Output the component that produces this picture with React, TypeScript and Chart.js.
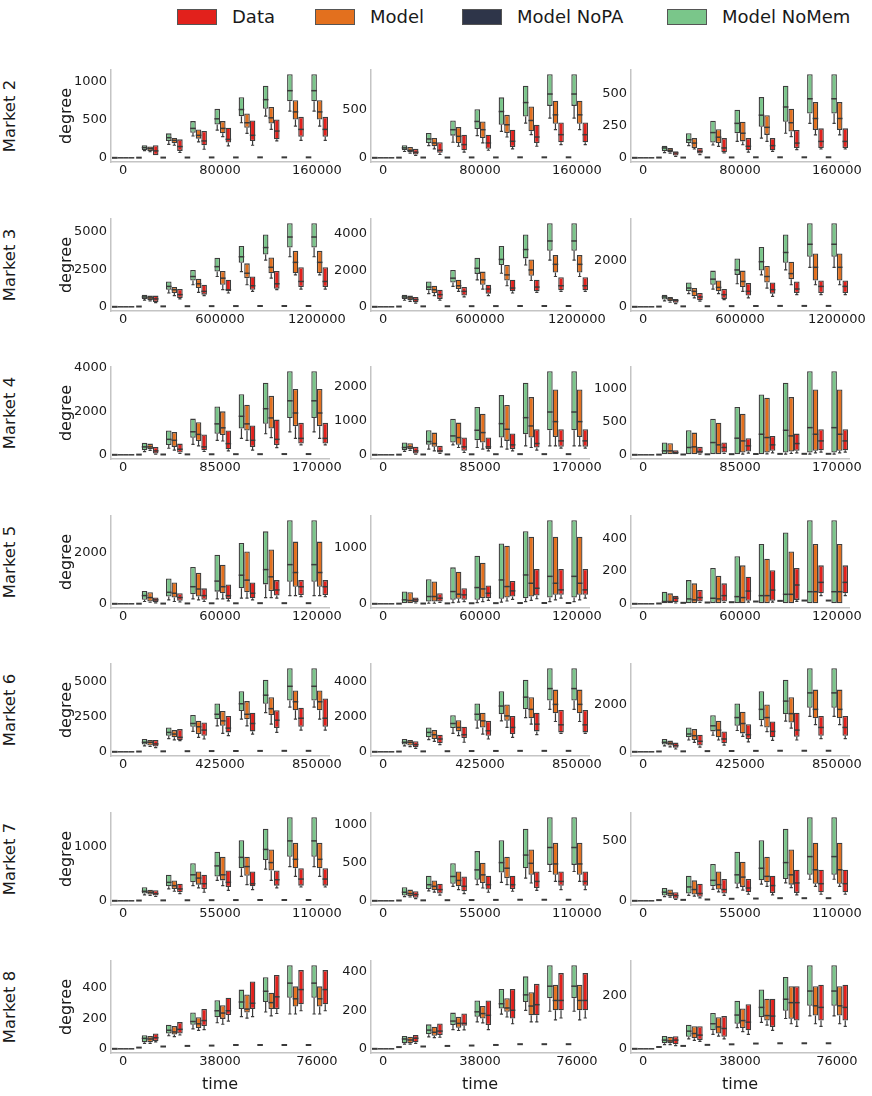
import React, { useEffect, useRef } from 'react';
import { Chart, registerables } from 'chart.js';

Chart.register(...registerables);

// box stats per group: [lowerWhisker, q1, median, q3]
// each market: one list per column (3 columns), 9 time groups each

const seriesNames = ['Data', 'Model', 'Model NoPA', 'Model NoMem'];
const seriesColors = ['#e2211c', '#e3701e', '#2e3549', '#7ac68a'];

const m2Times = [0, 20000, 40000, 60000, 80000, 100000, 120000, 140000, 160000];
const m2Ticks = [0, 80000, 160000];
const m2YTicks = [[0, 500, 1000], [0, 500], [0, 250, 500]];
const m2NoPA = [[0, 2, 3, 4, 5, 5, 6, 6, 6], [0, 2, 3, 3, 4, 4, 5, 5, 5], [0, 2, 2, 3, 3, 4, 4, 4, 4]];
const m2NoMem = [
  [[0, 0, 0, 0], [95, 104, 135, 165], [178, 222, 265, 322], [287, 330, 387, 483], [365, 439, 513, 644], [461, 548, 635, 796], [548, 644, 765, 948], [613, 744, 883, 1100], [613, 744, 883, 1100]],
  [[0, 0, 0, 0], [65, 78, 102, 129], [126, 153, 194, 255], [160, 228, 289, 384], [228, 296, 374, 500], [272, 340, 476, 622], [357, 425, 568, 741], [408, 534, 656, 860], [408, 534, 656, 860]],
  [[0, 0, 0, 0], [40, 51, 77, 95], [95, 115, 141, 192], [100, 120, 197, 289], [128, 192, 269, 376], [154, 243, 333, 474], [192, 282, 397, 563], [269, 346, 461, 653], [269, 346, 461, 653]],
];
const m2Model = [
  [[0, 0, 0, 0], [80, 91, 122, 148], [165, 191, 230, 261], [209, 252, 296, 374], [278, 322, 387, 483], [322, 396, 461, 583], [374, 452, 526, 670], [417, 504, 604, 757], [417, 504, 604, 757]],
  [[0, 0, 0, 0], [48, 58, 78, 112], [92, 119, 153, 204], [119, 153, 221, 316], [153, 204, 289, 374], [214, 255, 340, 442], [238, 272, 384, 527], [289, 350, 442, 588], [289, 350, 442, 588]],
  [[0, 0, 0, 0], [36, 44, 59, 77], [69, 77, 115, 154], [90, 115, 161, 223], [102, 128, 192, 282], [128, 179, 238, 333], [166, 205, 274, 384], [179, 218, 307, 435], [179, 218, 307, 435]],
];
const m2Data = [
  [[0, 0, 0, 0], [30, 35, 91, 165], [70, 91, 148, 243], [113, 165, 222, 352], [156, 200, 243, 396], [165, 222, 296, 491], [222, 243, 352, 504], [230, 278, 374, 539], [230, 278, 374, 539]],
  [[0, 0, 0, 0], [25, 34, 58, 92], [34, 51, 78, 160], [58, 78, 136, 238], [78, 92, 153, 238], [92, 112, 170, 289], [119, 153, 214, 340], [136, 160, 238, 364], [136, 160, 238, 364]],
  [[0, 0, 0, 0], [12, 18, 38, 51], [25, 33, 51, 77], [38, 44, 77, 154], [44, 59, 90, 154], [51, 59, 95, 154], [64, 77, 115, 218], [69, 77, 128, 230], [69, 77, 128, 230]],
];

const m3Times = [0, 150000, 300000, 450000, 600000, 750000, 900000, 1050000, 1200000];
const m3Ticks = [0, 600000, 1200000];
const m3YTicks = [[0, 2500, 5000], [0, 2000, 4000], [0, 2000]];
const m3NoPA = [[0, 20, 30, 40, 45, 50, 55, 55, 55], [0, 15, 25, 30, 35, 40, 45, 45, 45], [0, 10, 20, 25, 30, 35, 40, 40, 40]];
const m3NoMem = [
  [[0, 0, 0, 0], [450, 528, 660, 814], [924, 1144, 1364, 1694], [1474, 1760, 2024, 2464], [2024, 2354, 2684, 3278], [2354, 2948, 3344, 4070], [3124, 3498, 3960, 4840], [3344, 3960, 4664, 5588], [3344, 3960, 4664, 5588]],
  [[0, 0, 0, 0], [360, 432, 540, 666], [720, 900, 1080, 1386], [1116, 1332, 1566, 2016], [1476, 1800, 2106, 2682], [1836, 2286, 2592, 3330], [2286, 2646, 3132, 3960], [2556, 3060, 3600, 4572], [2556, 3060, 3600, 4572]],
  [[0, 0, 0, 0], [260, 317, 432, 533], [576, 677, 821, 1066], [778, 965, 1210, 1584], [1008, 1397, 1613, 2117], [1397, 1584, 1973, 2621], [1613, 1930, 2376, 3168], [1728, 2189, 2736, 3658], [1728, 2189, 2736, 3658]],
];
const m3Model = [
  [[0, 0, 0, 0], [400, 440, 594, 748], [748, 924, 1144, 1320], [968, 1254, 1540, 1870], [1144, 1474, 1914, 2398], [1474, 1914, 2244, 2904], [1914, 2244, 2640, 3300], [2134, 2244, 2970, 3740], [2134, 2244, 2970, 3740]],
  [[0, 0, 0, 0], [300, 360, 486, 612], [612, 756, 936, 1152], [846, 972, 1152, 1476], [972, 1206, 1476, 1926], [1152, 1440, 1746, 2286], [1440, 1692, 2016, 2592], [1656, 1872, 2322, 2826], [1656, 1872, 2322, 2826]],
  [[0, 0, 0, 0], [200, 245, 346, 432], [389, 461, 677, 821], [576, 677, 850, 1152], [677, 864, 1109, 1584], [821, 1066, 1325, 1786], [965, 1210, 1454, 1973], [965, 1152, 1728, 2333], [965, 1152, 1728, 2333]],
];
const m3Data = [
  [[0, 0, 0, 0], [280, 330, 528, 748], [528, 594, 814, 1188], [748, 814, 1034, 1474], [924, 1034, 1144, 1804], [1034, 1144, 1408, 2024], [1144, 1210, 1540, 2398], [1188, 1320, 1694, 2640], [1188, 1320, 1694, 2640]],
  [[0, 0, 0, 0], [200, 252, 396, 540], [360, 432, 666, 936], [540, 612, 846, 1080], [612, 720, 972, 1206], [756, 846, 1026, 1476], [792, 846, 1080, 1476], [846, 900, 1152, 1620], [846, 900, 1152, 1620]],
  [[0, 0, 0, 0], [140, 173, 274, 346], [245, 288, 432, 605], [317, 346, 533, 778], [389, 490, 677, 1037], [461, 576, 749, 1066], [533, 605, 778, 1109], [533, 605, 893, 1152], [533, 605, 893, 1152]],
];

const m4Times = [0, 21250, 42500, 63750, 85000, 106250, 127500, 148750, 170000];
const m4Ticks = [0, 85000, 170000];
const m4YTicks = [[0, 2000, 4000], [0, 1000, 2000], [0, 500, 1000]];
const m4NoPA = [[0, 10, 15, 20, 25, 30, 30, 35, 35], [0, 5, 10, 12, 15, 18, 20, 20, 20], [0, 3, 5, 8, 10, 12, 14, 15, 15]];
const m4NoMem = [
  [[0, 0, 0, 0], [150, 212, 364, 560], [303, 455, 712, 1121], [485, 788, 1060, 1667], [667, 970, 1424, 2227], [757, 1212, 1773, 2788], [970, 1424, 2121, 3318], [1060, 1697, 2485, 3848], [1060, 1697, 2485, 3848]],
  [[0, 0, 0, 0], [100, 137, 215, 361], [166, 293, 390, 722], [293, 361, 556, 1064], [215, 429, 722, 1405], [234, 508, 917, 1757], [264, 605, 1093, 2118], [264, 722, 1259, 2460], [264, 722, 1259, 2460]],
  [[0, 0, 0, 0], [5, 10, 60, 186], [5, 10, 111, 372], [5, 10, 186, 548], [5, 10, 252, 724], [5, 10, 312, 915], [10, 35, 372, 1092], [10, 35, 412, 1268], [10, 35, 412, 1268]],
];
const m4Model = [
  [[0, 0, 0, 0], [200, 258, 364, 515], [212, 364, 667, 1045], [409, 636, 939, 1500], [636, 909, 1242, 2000], [667, 1121, 1424, 2303], [788, 1212, 1697, 2712], [757, 1318, 1924, 3030], [757, 1318, 1924, 3030]],
  [[0, 0, 0, 0], [130, 166, 234, 342], [117, 234, 332, 654], [215, 293, 508, 947], [166, 361, 654, 1210], [166, 410, 752, 1464], [215, 508, 849, 1698], [264, 527, 976, 1923], [264, 527, 976, 1923]],
  [[0, 0, 0, 0], [5, 10, 60, 176], [5, 10, 121, 337], [5, 10, 151, 488], [10, 35, 211, 624], [15, 35, 262, 865], [20, 50, 287, 875], [30, 60, 312, 991], [30, 60, 312, 991]],
];
const m4Data = [
  [[0, 0, 0, 0], [30, 60, 182, 364], [60, 106, 258, 515], [152, 212, 364, 939], [182, 258, 515, 1121], [212, 364, 667, 1348], [333, 455, 712, 1621], [455, 515, 757, 1470], [455, 515, 757, 1470]],
  [[0, 0, 0, 0], [20, 39, 117, 234], [40, 68, 117, 264], [68, 117, 234, 508], [117, 166, 234, 508], [117, 166, 293, 625], [137, 215, 332, 752], [195, 234, 410, 752], [195, 234, 410, 752]],
  [[0, 0, 0, 0], [5, 10, 35, 70], [10, 20, 50, 121], [20, 35, 111, 186], [25, 50, 136, 252], [30, 60, 151, 287], [30, 60, 171, 322], [40, 70, 211, 387], [40, 70, 211, 387]],
];

const m5Times = [0, 15000, 30000, 45000, 60000, 75000, 90000, 105000, 120000];
const m5Ticks = [0, 60000, 120000];
const m5YTicks = [[0, 2000], [0, 1000], [0, 200, 400]];
const m5NoPA = [[0, 5, 10, 15, 20, 20, 25, 25, 25], [0, 3, 5, 8, 10, 12, 14, 15, 15], [0, 2, 6, 8, 10, 14, 18, 20, 20]];
const m5NoMem = [
  [[0, 0, 0, 0], [89, 153, 318, 497], [153, 280, 446, 981], [191, 369, 662, 1427], [191, 471, 879, 1898], [217, 599, 1108, 2357], [242, 752, 1325, 2803], [318, 854, 1516, 3236], [318, 854, 1516, 3236]],
  [[0, 0, 0, 0], [5, 12, 71, 219], [10, 41, 130, 438], [20, 71, 219, 651], [20, 71, 290, 858], [30, 89, 426, 1077], [40, 101, 515, 1296], [40, 112, 490, 1492], [40, 112, 490, 1492]],
  [[0, 0, 0, 0], [1, 4, 14, 74], [1, 4, 30, 145], [1, 4, 34, 219], [1, 4, 44, 291], [1, 4, 50, 366], [1, 4, 58, 436], [1, 4, 74, 511], [1, 4, 74, 511]],
];
const m5Model = [
  [[0, 0, 0, 0], [60, 89, 242, 446], [89, 242, 408, 828], [153, 280, 573, 1198], [191, 408, 662, 1516], [217, 446, 917, 2026], [242, 497, 1045, 2102], [318, 662, 1210, 2408], [318, 662, 1210, 2408]],
  [[0, 0, 0, 0], [5, 12, 59, 207], [10, 41, 130, 397], [30, 89, 172, 574], [40, 101, 266, 734], [50, 112, 308, 1036], [60, 130, 367, 1196], [70, 160, 367, 1196], [70, 160, 367, 1196]],
  [[0, 0, 0, 0], [1, 4, 14, 64], [1, 4, 24, 125], [1, 4, 30, 171], [1, 4, 38, 235], [1, 4, 50, 275], [1, 4, 58, 320], [1, 4, 74, 366], [1, 4, 74, 366]],
];
const m5Data = [
  [[0, 0, 0, 0], [40, 64, 153, 242], [70, 115, 242, 408], [89, 153, 318, 599], [115, 191, 318, 752], [153, 217, 408, 828], [217, 318, 535, 917], [280, 344, 662, 917], [280, 344, 662, 917]],
  [[0, 0, 0, 0], [15, 30, 71, 112], [25, 41, 101, 189], [40, 71, 160, 278], [60, 101, 189, 326], [80, 130, 231, 408], [90, 148, 278, 622], [100, 160, 249, 622], [100, 160, 249, 622]],
  [[0, 0, 0, 0], [5, 10, 34, 50], [8, 14, 38, 84], [8, 14, 50, 125], [10, 18, 78, 165], [10, 18, 84, 205], [15, 24, 115, 219], [50, 64, 131, 235], [50, 64, 131, 235]],
];

const m6Times = [0, 106250, 212500, 318750, 425000, 531250, 637500, 743750, 850000];
const m6Ticks = [0, 425000, 850000];
const m6YTicks = [[0, 2500, 5000], [0, 2000, 4000], [0, 2000]];
const m6NoPA = [[0, 20, 35, 45, 55, 60, 65, 70, 70], [0, 15, 25, 35, 45, 50, 55, 55, 55], [0, 15, 20, 30, 35, 40, 45, 45, 45]];
const m6NoMem = [
  [[0, 0, 0, 0], [420, 519, 684, 920], [950, 1156, 1392, 1746], [1463, 1794, 2030, 2643], [1864, 2336, 2690, 3469], [2336, 2926, 3446, 4342], [2808, 3446, 4059, 5168], [3210, 3682, 4696, 5994], [3210, 3682, 4696, 5994]],
  [[0, 0, 0, 0], [340, 416, 548, 737], [700, 832, 1115, 1399], [1058, 1361, 1625, 2098], [1361, 1777, 2155, 2778], [1777, 2155, 2627, 3478], [1966, 2438, 3137, 4139], [2438, 2948, 3629, 4800], [2438, 2948, 3629, 4800]],
  [[0, 0, 0, 0], [250, 306, 403, 542], [500, 612, 751, 1029], [700, 862, 1098, 1543], [900, 1098, 1446, 2043], [1100, 1334, 1793, 2558], [1300, 1585, 2141, 3044], [1500, 1863, 2488, 3531], [1500, 1863, 2488, 3531]],
];
const m6Model = [
  [[0, 0, 0, 0], [380, 448, 684, 850], [850, 1038, 1274, 1558], [1038, 1274, 1794, 2218], [1322, 1864, 2218, 2926], [1864, 2336, 2690, 3634], [1982, 2643, 3092, 3918], [2336, 2974, 3587, 4390], [2336, 2974, 3587, 4390]],
  [[0, 0, 0, 0], [300, 359, 548, 680], [600, 737, 983, 1247], [926, 1172, 1399, 1814], [1021, 1399, 1777, 2249], [1399, 1777, 2060, 2722], [1588, 1928, 2438, 3137], [1739, 2211, 2722, 3572], [1739, 2211, 2722, 3572]],
  [[0, 0, 0, 0], [210, 264, 361, 473], [400, 500, 681, 959], [500, 612, 917, 1307], [650, 778, 1195, 1696], [850, 1029, 1446, 2002], [1000, 1237, 1612, 2307], [1150, 1418, 1793, 2627], [1150, 1418, 1793, 2627]],
];
const m6Data = [
  [[0, 0, 0, 0], [300, 378, 566, 850], [802, 850, 1038, 1628], [920, 1156, 1558, 2100], [1156, 1392, 1699, 2572], [1274, 1463, 2030, 2808], [1392, 1699, 2266, 2974], [1558, 1794, 2407, 3162], [1558, 1794, 2407, 3823]],
  [[0, 0, 0, 0], [200, 265, 416, 605], [416, 491, 737, 983], [548, 794, 983, 1436], [737, 926, 1210, 1777], [832, 1021, 1399, 2060], [983, 1172, 1588, 2249], [1058, 1115, 1550, 2400], [1058, 1115, 1550, 2400]],
  [[0, 0, 0, 0], [120, 167, 264, 389], [200, 264, 445, 723], [280, 361, 542, 862], [420, 542, 723, 1168], [480, 612, 862, 1279], [500, 639, 917, 1654], [560, 681, 1029, 1515], [560, 681, 1029, 1515]],
];

const m7Times = [0, 13750, 27500, 41250, 55000, 68750, 82500, 96250, 110000];
const m7Ticks = [0, 55000, 110000];
const m7YTicks = [[0, 1000], [0, 500, 1000], [0, 500]];
const m7NoPA = [[0, 5, 8, 10, 12, 14, 15, 15, 15], [0, 4, 6, 8, 10, 12, 14, 14, 14], [0, 6, 8, 11, 17, 19, 22, 22, 22]];
const m7NoMem = [
  [[0, 0, 0, 0], [110, 134, 177, 250], [220, 268, 342, 482], [281, 342, 482, 695], [378, 451, 647, 909], [451, 604, 805, 1122], [586, 756, 952, 1336], [634, 817, 1110, 1549], [634, 817, 1110, 1549]],
  [[0, 0, 0, 0], [55, 69, 112, 177], [130, 155, 211, 328], [190, 224, 319, 491], [211, 276, 405, 651], [241, 371, 500, 793], [297, 427, 599, 944], [384, 470, 698, 1095], [384, 470, 698, 1095]],
  [[0, 0, 0, 0], [35, 44, 72, 107], [45, 61, 116, 209], [95, 121, 171, 308], [110, 143, 217, 410], [140, 171, 272, 506], [150, 182, 319, 602], [180, 217, 369, 698], [180, 217, 369, 698]],
];
const m7Model = [
  [[0, 0, 0, 0], [100, 116, 159, 207], [177, 220, 281, 378], [238, 299, 421, 543], [281, 378, 482, 817], [299, 464, 634, 817], [378, 561, 708, 952], [451, 604, 769, 1074], [451, 604, 769, 1074]],
  [[0, 0, 0, 0], [50, 60, 95, 147], [115, 138, 190, 267], [147, 190, 267, 384], [168, 233, 340, 500], [211, 297, 427, 578], [233, 340, 491, 672], [254, 340, 483, 759], [254, 340, 483, 759]],
  [[0, 0, 0, 0], [30, 39, 61, 94], [40, 52, 94, 171], [75, 94, 135, 245], [90, 116, 198, 327], [120, 154, 204, 368], [110, 135, 217, 429], [120, 143, 259, 484], [120, 143, 259, 484]],
];
const m7Data = [
  [[0, 0, 0, 0], [80, 98, 134, 195], [134, 159, 220, 317], [159, 220, 317, 482], [195, 256, 342, 561], [207, 268, 317, 543], [238, 281, 390, 561], [256, 281, 403, 604], [256, 281, 403, 604]],
  [[0, 0, 0, 0], [30, 39, 82, 125], [75, 95, 147, 224], [95, 125, 190, 319], [112, 147, 211, 328], [125, 155, 211, 328], [138, 168, 254, 384], [147, 198, 254, 384], [147, 198, 254, 384]],
  [[0, 0, 0, 0], [12, 17, 44, 72], [25, 33, 61, 143], [45, 61, 94, 182], [55, 72, 107, 182], [50, 66, 127, 209], [50, 66, 149, 259], [55, 72, 143, 259], [55, 72, 143, 259]],
];

const m8Times = [0, 9500, 19000, 28500, 38000, 47500, 57000, 66500, 76000];
const m8Ticks = [0, 38000, 76000];
const m8YTicks = [[0, 200, 400], [0, 200, 400], [0, 200]];
const m8NoPA = [[0, 8, 15, 19, 21, 25, 25, 25, 25], [0, 9, 12, 15, 17, 20, 24, 24, 24], [0, 7, 11, 15, 17, 20, 21, 21, 21]];
const m8NoMem = [
  [[0, 0, 0, 0], [35, 42, 68, 89], [85, 100, 121, 157], [130, 157, 178, 237], [170, 206, 248, 316], [210, 259, 305, 386], [240, 305, 375, 466], [227, 333, 428, 545], [227, 333, 428, 545]],
  [[0, 0, 0, 0], [24, 29, 51, 67], [62, 75, 97, 127], [100, 123, 144, 188], [140, 166, 192, 251], [180, 209, 234, 311], [200, 243, 280, 376], [195, 263, 325, 434], [195, 263, 325, 434]],
  [[0, 0, 0, 0], [16, 21, 33, 49], [38, 46, 67, 91], [55, 70, 95, 136], [80, 95, 128, 182], [100, 120, 157, 225], [115, 144, 188, 272], [125, 163, 219, 317], [125, 163, 219, 317]],
];
const m8Model = [
  [[0, 0, 0, 0], [35, 42, 64, 83], [80, 93, 110, 148], [120, 136, 163, 206], [160, 195, 233, 284], [200, 237, 259, 354], [215, 259, 301, 365], [227, 276, 326, 407], [227, 276, 326, 407]],
  [[0, 0, 0, 0], [24, 29, 46, 63], [58, 68, 86, 115], [95, 109, 132, 166], [135, 157, 183, 222], [165, 192, 212, 263], [140, 174, 222, 294], [150, 200, 251, 332], [150, 200, 251, 332]],
  [[0, 0, 0, 0], [16, 21, 30, 46], [32, 40, 58, 86], [48, 58, 83, 120], [65, 79, 107, 153], [90, 107, 126, 190], [95, 114, 175, 237], [95, 126, 163, 237], [95, 126, 163, 237]],
];
const m8Data = [
  [[0, 0, 0, 0], [45, 51, 72, 100], [90, 100, 127, 174], [125, 148, 184, 259], [180, 220, 248, 333], [210, 259, 297, 439], [230, 259, 339, 481], [248, 290, 386, 513], [248, 290, 386, 513]],
  [[0, 0, 0, 0], [28, 34, 55, 72], [60, 72, 92, 132], [98, 120, 132, 183], [100, 123, 174, 251], [130, 157, 200, 311], [140, 174, 229, 337], [160, 200, 251, 393], [160, 200, 251, 393]],
  [[0, 0, 0, 0], [12, 17, 33, 48], [28, 33, 52, 86], [38, 46, 77, 124], [55, 70, 101, 169], [70, 83, 124, 190], [85, 107, 175, 237], [85, 107, 157, 243], [85, 107, 157, 243]],
];

const markets = [
  { name: 'Market 2', times: m2Times, ticks: m2Ticks, yTicks: m2YTicks, noPA: m2NoPA, noMem: m2NoMem, model: m2Model, data: m2Data },
  { name: 'Market 3', times: m3Times, ticks: m3Ticks, yTicks: m3YTicks, noPA: m3NoPA, noMem: m3NoMem, model: m3Model, data: m3Data },
  { name: 'Market 4', times: m4Times, ticks: m4Ticks, yTicks: m4YTicks, noPA: m4NoPA, noMem: m4NoMem, model: m4Model, data: m4Data },
  { name: 'Market 5', times: m5Times, ticks: m5Ticks, yTicks: m5YTicks, noPA: m5NoPA, noMem: m5NoMem, model: m5Model, data: m5Data },
  { name: 'Market 6', times: m6Times, ticks: m6Ticks, yTicks: m6YTicks, noPA: m6NoPA, noMem: m6NoMem, model: m6Model, data: m6Data },
  { name: 'Market 7', times: m7Times, ticks: m7Ticks, yTicks: m7YTicks, noPA: m7NoPA, noMem: m7NoMem, model: m7Model, data: m7Data },
  { name: 'Market 8', times: m8Times, ticks: m8Ticks, yTicks: m8YTicks, noPA: m8NoPA, noMem: m8NoMem, model: m8Model, data: m8Data },
];

const FONT = "'DejaVu Sans', sans-serif";
const PLOT_LEFTS = [111, 371, 631];
const PLOT_W = 218;
const PLOT_H = 92;
const ROW_TOP = 70;
const ROW_STEP = 148.5;
const PAD_TOP = 12;
const PAD_RIGHT = 26;

// whiskers, caps and medians drawn on top of the floating bars
const boxPlugin = {
  id: 'boxWhiskers',
  afterDatasetsDraw(chart: any) {
    const { ctx } = chart;
    const y = chart.scales.y;
    chart.data.datasets.forEach((ds: any, di: number) => {
      const meta = chart.getDatasetMeta(di);
      meta.data.forEach((bar: any, i: number) => {
        const s = ds.stats[i];
        const { x, width } = bar.getProps(['x', 'width'], true);
        const yLo = y.getPixelForValue(s[0]);
        const yQ1 = y.getPixelForValue(s[1]);
        const yMed = y.getPixelForValue(s[2]);
        ctx.save();
        ctx.strokeStyle = '#3a3a3a';
        if (yLo - yQ1 > 0.5) {
          ctx.lineWidth = 1.2;
          ctx.beginPath();
          ctx.moveTo(x, yQ1);
          ctx.lineTo(x, yLo);
          ctx.moveTo(x - 1.6, yLo);
          ctx.lineTo(x + 1.6, yLo);
          ctx.stroke();
        }
        ctx.lineWidth = ds.medianWidth;
        ctx.beginPath();
        ctx.moveTo(x - width / 2, yMed);
        ctx.lineTo(x + width / 2, yMed);
        ctx.stroke();
        ctx.restore();
      });
    });
  },
};

interface PanelProps {
  market: (typeof markets)[number];
  col: number;
  row: number;
  last: boolean;
}

const Panel: React.FC<PanelProps> = ({ market, col, row, last }) => {
  const canvasRef = useRef<HTMLCanvasElement>(null);
  const yW = col === 0 ? 58 : 40;
  const xH = last ? 43 : 22;
  const width = yW + PLOT_W + PAD_RIGHT;
  const height = PAD_TOP + PLOT_H + xH;
  const left = PLOT_LEFTS[col] - yW;
  const top = Math.round(ROW_TOP + row * ROW_STEP) - PAD_TOP;

  useEffect(() => {
    if (!canvasRef.current) return;
    const noPA = market.noPA[col].map((v) => [v, v, v, v]);
    const series = [noPA, market.noMem[col], market.model[col], market.data[col]];
    const order = [2, 3, 1, 0]; // NoPA, NoMem, Model, Data left to right
    const top = Math.max(...series.flat().map((s) => s[3]));
    const yTicks = market.yTicks[col];

    const chart = new Chart(canvasRef.current, {
      type: 'bar',
      data: {
        labels: market.times.map(String),
        datasets: series.map((stats, k) => ({
          label: seriesNames[order[k]],
          data: stats.map((s) => [s[1], s[3]]),
          backgroundColor: seriesColors[order[k]],
          borderColor: '#3d3d3d',
          borderWidth: 1.3,
          borderSkipped: false,
          categoryPercentage: 0.92,
          barPercentage: 1,
          stats,
          medianWidth: k === 0 ? 2 : 1.5,
        })) as any,
      },
      options: {
        animation: false,
        responsive: false,
        layout: { padding: { top: PAD_TOP, right: PAD_RIGHT, left: 0, bottom: 0 } },
        plugins: { legend: { display: false }, tooltip: { enabled: false } },
        scales: {
          x: {
            type: 'category',
            offset: true,
            grid: { display: false, drawTicks: false },
            border: { display: true, color: '#c4c4c4', width: 1.5 },
            ticks: {
              autoSkip: false,
              maxRotation: 0,
              minRotation: 0,
              padding: 1,
              color: '#1a1a1a',
              font: { family: FONT, size: 13 },
              callback: (_v: any, i: number) => (market.ticks.includes(market.times[i]) ? String(market.times[i]) : ''),
            },
            title: {
              display: last,
              text: 'time',
              color: '#1a1a1a',
              font: { family: FONT, size: 16 },
              padding: { top: 0, bottom: 2 },
            },
            afterFit: (s: any) => {
              s.height = xH;
            },
          },
          y: {
            min: -0.05 * top,
            max: 1.05 * top,
            grid: { display: false, drawTicks: false },
            border: { display: true, color: '#c4c4c4', width: 1.5 },
            ticks: {
              padding: 4,
              color: '#1a1a1a',
              font: { family: FONT, size: 13 },
              callback: (v: any) => String(v),
            },
            afterBuildTicks: (s: any) => {
              s.ticks = yTicks.map((v) => ({ value: v }));
            },
            title: {
              display: col === 0,
              text: 'degree',
              color: '#1a1a1a',
              font: { family: FONT, size: 16 },
              padding: { top: 4, bottom: 0 },
            },
            afterFit: (s: any) => {
              s.width = yW;
            },
          },
        },
      },
      plugins: [boxPlugin],
    });

    return () => {
      chart.destroy();
    };
  }, [market, col, last, xH, yW]);

  return (
    <canvas
      ref={canvasRef}
      width={width}
      height={height}
      style={{ position: 'absolute', left, top, width, height }}
    />
  );
};

const legendX = [177, 315, 462, 667];

const App: React.FC = () => {
  return (
    <div
      style={{
        position: 'absolute',
        left: 0,
        top: 0,
        width: 872,
        height: 1096,
        overflow: 'hidden',
        background: '#fff',
        fontFamily: FONT,
        color: '#1a1a1a',
      }}
    >
      {seriesNames.map((name, i) => (
        <div key={name}>
          <div
            style={{
              position: 'absolute',
              left: legendX[i],
              top: 9,
              width: 38,
              height: 14,
              background: seriesColors[i],
              border: '1px solid #555',
            }}
          />
          <div
            style={{
              position: 'absolute',
              left: legendX[i] + 55,
              top: 4,
              fontSize: 18,
              lineHeight: '26px',
              whiteSpace: 'nowrap',
            }}
          >
            {name}
          </div>
        </div>
      ))}
      {markets.map((m, r) => (
        <React.Fragment key={m.name}>
          <div
            style={{
              position: 'absolute',
              left: 10,
              top: Math.round(ROW_TOP + r * ROW_STEP) + 46,
              transform: 'translate(-50%, -50%) rotate(-90deg)',
              fontSize: 16.5,
              lineHeight: 1.2,
              whiteSpace: 'nowrap',
            }}
          >
            {m.name}
          </div>
          {[0, 1, 2].map((c) => (
            <Panel key={c} market={m} col={c} row={r} last={r === markets.length - 1} />
          ))}
        </React.Fragment>
      ))}
    </div>
  );
};

export default App;
